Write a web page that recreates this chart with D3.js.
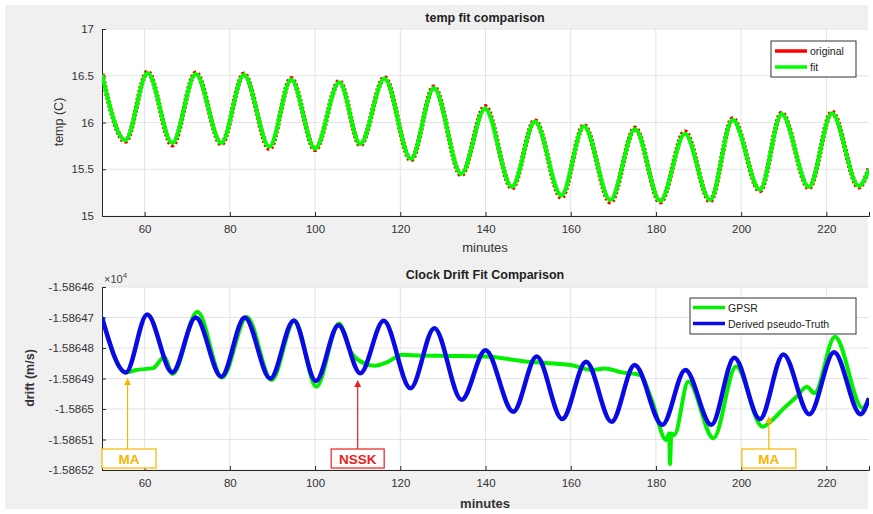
<!DOCTYPE html>
<html><head><meta charset="utf-8">
<script src="https://cdn.jsdelivr.net/npm/d3@7"></script>
<style>
body{margin:0;background:#fff;}
text{font-family:"Liberation Sans",Arial,sans-serif;}
</style></head>
<body><svg id="c" width="873" height="514"></svg>
<script>
// ---------- data ----------
const xTicks = [60, 80, 100, 120, 140, 160, 180, 200, 220];
const tempTicks = [15, 15.5, 16, 16.5, 17];
const tempTickLabels = ["15", "15.5", "16", "16.5", "17"];
// temperature extrema (minutes, degC)
const tempTime = [50, 55.5, 60.7, 66.5, 72, 78, 83.3, 89.3, 94.4, 100, 105.7, 110.6, 116.3, 122.5, 127.9, 134.3, 139.9, 146.2, 151.6, 157.8, 163.1, 169.3, 175.1, 181, 186.8, 192.7, 198, 204.4, 209.5, 215.9, 221.3, 227.6, 230];
const tempFit  = [16.51, 15.81, 16.53, 15.78, 16.52, 15.78, 16.51, 15.74, 16.46, 15.72, 16.43, 15.77, 16.47, 15.61, 16.37, 15.45, 16.15, 15.31, 16.01, 15.22, 15.96, 15.17, 15.93, 15.16, 15.88, 15.17, 16.03, 15.28, 16.09, 15.31, 16.10, 15.32, 15.50];
const tempOrig = [16.52, 15.80, 16.54, 15.76, 16.53, 15.77, 16.52, 15.72, 16.47, 15.71, 16.44, 15.76, 16.48, 15.60, 16.38, 15.44, 16.17, 15.30, 16.02, 15.20, 15.97, 15.15, 15.94, 15.15, 15.90, 15.16, 16.04, 15.27, 16.10, 15.30, 16.11, 15.31, 15.51];

const driftTicks = [-1.58652, -1.58651, -1.5865, -1.58649, -1.58648, -1.58647, -1.58646];
const driftTickLabels = ["-1.58652", "-1.58651", "-1.5865", "-1.58649", "-1.58648", "-1.58647", "-1.58646"];
// derived pseudo-truth extrema (minutes, drift x1e4 m/s)
const truthTime = [50, 55.6, 60.6, 66.5, 72, 78, 83.5, 89.5, 95, 100.2, 105.5, 110.6, 116.1, 122.4, 128, 134.4, 140, 146.5, 152, 158, 163.6, 169.6, 175, 181.5, 186.9, 193, 198.4, 204.4, 209.9, 216, 221.8, 228, 230];
const truth = [-1.586470, -1.586488, -1.586469, -1.586488, -1.586470, -1.5864894, -1.586470, -1.586490, -1.586471, -1.5864908, -1.5864725, -1.5864883, -1.5864711, -1.5864932, -1.5864735, -1.586497, -1.5864807, -1.5865009, -1.5864828, -1.5865033, -1.5864845, -1.5865042, -1.5864856, -1.5865052, -1.5864872, -1.5865052, -1.5864832, -1.5865033, -1.5864821, -1.5865017, -1.5864814, -1.5865017, -1.5864965];
// GPSR samples (minutes, drift x1e4 m/s)
const gpsrTime = [50, 55.6, 58, 62, 64.6, 66.6, 72.4, 78.2, 84, 89.8, 95.2, 100.3, 105.6, 108.5, 111.5, 114, 117, 120.5, 125, 132, 140, 150, 160, 165, 168, 172, 176.3, 179, 182.4, 183.1, 183.3, 183.6, 184.3, 187.6, 193.5, 198.8, 205, 207, 210, 213, 215.4, 217.2, 222, 228.5, 230];
const gpsr = [-1.586470, -1.586488, -1.5864872, -1.5864866, -1.586483, -1.5864885, -1.5864681, -1.5864897, -1.5864698, -1.5864905, -1.586471, -1.5864927, -1.586472, -1.5864815, -1.586485, -1.5864858, -1.5864846, -1.5864822, -1.5864825, -1.5864826, -1.5864828, -1.5864845, -1.5864856, -1.5864872, -1.5864867, -1.586488, -1.5864889, -1.586497, -1.5865102, -1.586508, -1.586518, -1.586508, -1.5865085, -1.586491, -1.5865096, -1.5864861, -1.5865058, -1.586504, -1.5864998, -1.586496, -1.5864927, -1.5864948, -1.5864763, -1.5864997, -1.5864965];

// annotations: label, x (minutes) of arrow, value of arrow tip
const annLabels = ["MA", "NSSK", "MA"];
const annX = [56, 110, 206.5];
const annTip = [-1.5864898, -1.5864905, -1.5865023];
const annColors = ["#f7b500", "#ee1c1c", "#f7b500"];

// ---------- drawing ----------
const svg = d3.select("#c");
svg.append("rect").attr("x", 5).attr("y", 5).attr("width", 863).attr("height", 504).attr("fill", "#f0f0f0");

const L = 102, R = 869;
const x = d3.scaleLinear().domain([50, 230]).range([L, R]);
const yT = d3.scaleLinear().domain([15, 17]).range([216, 29]);
const yD = d3.scaleLinear().domain([-1.58652, -1.58646]).range([470, 287]);

function panel(y, ticks, labels, top, bottom) {
  const g = svg.append("g");
  g.append("rect").attr("x", L).attr("y", top).attr("width", R - L).attr("height", bottom - top).attr("fill", "#fff");
  // grid
  g.selectAll(".vg").data(xTicks).enter().append("line")
    .attr("x1", d => x(d)).attr("x2", d => x(d)).attr("y1", top).attr("y2", bottom)
    .attr("stroke", "#e3e3e3").attr("stroke-width", 1);
  g.selectAll(".hg").data(ticks).enter().append("line")
    .attr("x1", L).attr("x2", R).attr("y1", d => y(d)).attr("y2", d => y(d))
    .attr("stroke", "#e3e3e3").attr("stroke-width", 1);
  // axes
  const ax = d3.axisBottom(x).tickValues(xTicks).tickSize(-4).tickPadding(9).tickFormat(d3.format("d"));
  const xg = g.append("g").attr("transform", `translate(0,${bottom})`).call(ax);
  const ay = d3.axisLeft(y).tickValues(ticks).tickSize(-4).tickPadding(8).tickFormat((d, i) => labels[i]);
  const yg = g.append("g").attr("transform", `translate(${L},0)`).call(ay);
  [xg, yg].forEach(a => {
    a.select(".domain").attr("stroke", "#262626").attr("stroke-width", 1);
    a.selectAll(".tick line").attr("stroke", "#262626");
    a.selectAll("text").attr("fill", "#333").style("font-size", "11.5px").style("font-family", "Liberation Sans, Arial, sans-serif");
  });
  return g;
}

// ---- top panel ----
panel(yT, tempTicks, tempTickLabels, 29, 216);
const lineT = (arr) => d3.line().x((d, i) => x(tempTime[i])).y(d => yT(d)).curve(d3.curveMonotoneX)(arr);
const clipT = svg.append("clipPath").attr("id", "ct").append("rect").attr("x", L).attr("y", 29).attr("width", R - L).attr("height", 187);
svg.append("path").attr("d", lineT(tempOrig)).attr("fill", "none").attr("stroke", "#ff0000").attr("stroke-width", 5).attr("stroke-dasharray", "2,2").attr("clip-path", "url(#ct)");
svg.append("path").attr("d", lineT(tempFit)).attr("fill", "none").attr("stroke", "#00ff00").attr("stroke-width", 4).attr("clip-path", "url(#ct)");

svg.append("text").attr("x", 485).attr("y", 22).attr("text-anchor", "middle").attr("font-weight", "bold").attr("font-size", "12.5px").attr("fill", "#222").text("temp fit comparison");
svg.append("text").attr("x", 485).attr("y", 252).attr("text-anchor", "middle").attr("font-size", "13px").attr("fill", "#333").text("minutes");
svg.append("text").attr("transform", "translate(63,122) rotate(-90)").attr("text-anchor", "middle").attr("font-size", "12.5px").attr("fill", "#333").text("temp (C)");

// legend top
const lg1 = svg.append("g");
lg1.append("rect").attr("x", 771).attr("y", 41).attr("width", 85).attr("height", 36).attr("fill", "#fff").attr("stroke", "#333").attr("stroke-width", 1);
[["original", "#ff0000"], ["fit", "#00ff00"]].forEach((e, i) => {
  const yy = 51 + i * 16;
  lg1.append("line").attr("x1", 775).attr("x2", 807).attr("y1", yy).attr("y2", yy).attr("stroke", e[1]).attr("stroke-width", 3.5);
  lg1.append("text").attr("x", 810).attr("y", yy + 3.5).attr("font-size", "10.5px").attr("fill", "#222").text(e[0]);
});

// ---- bottom panel ----
panel(yD, driftTicks, driftTickLabels, 287, 470);
const clipD = svg.append("clipPath").attr("id", "cd").append("rect").attr("x", L).attr("y", 287).attr("width", R - L).attr("height", 183);
const lineG = d3.line().x((d, i) => x(gpsrTime[i])).y(d => yD(d)).curve(d3.curveMonotoneX);
const lineB = d3.line().x((d, i) => x(truthTime[i])).y(d => yD(d)).curve(d3.curveMonotoneX);
svg.append("path").attr("d", lineG(gpsr)).attr("fill", "none").attr("stroke", "#00f000").attr("stroke-width", 4).attr("clip-path", "url(#cd)");
svg.append("path").attr("d", lineB(truth)).attr("fill", "none").attr("stroke", "#0a0ae6").attr("stroke-width", 4.5).attr("clip-path", "url(#cd)");

svg.append("text").attr("x", 485).attr("y", 279).attr("text-anchor", "middle").attr("font-weight", "bold").attr("font-size", "12.5px").attr("fill", "#222").text("Clock Drift Fit Comparison");
svg.append("text").attr("x", 485).attr("y", 508).attr("text-anchor", "middle").attr("font-weight", "bold").attr("font-size", "13px").attr("fill", "#333").text("minutes");
svg.append("text").attr("transform", "translate(34,378) rotate(-90)").attr("text-anchor", "middle").attr("font-weight", "bold").attr("font-size", "12.5px").attr("fill", "#333").text("drift (m/s)");
const ex = svg.append("text").attr("x", 104).attr("y", 283).attr("font-size", "11px").attr("fill", "#444");
ex.append("tspan").text("\u00d710");
ex.append("tspan").attr("dy", -5).attr("font-size", "8px").text("4");

// legend bottom
const lg2 = svg.append("g");
lg2.append("rect").attr("x", 690).attr("y", 298).attr("width", 166).attr("height", 36).attr("fill", "#fff").attr("stroke", "#333").attr("stroke-width", 1);
[["GPSR", "#00f000"], ["Derived pseudo-Truth", "#0a0ae6"]].forEach((e, i) => {
  const yy = 307.5 + i * 16;
  lg2.append("line").attr("x1", 693).attr("x2", 725).attr("y1", yy).attr("y2", yy).attr("stroke", e[1]).attr("stroke-width", 3.5);
  lg2.append("text").attr("x", 728).attr("y", yy + 4).attr("font-size", "10.5px").attr("fill", "#222").text(e[0]);
});

// annotations
annLabels.forEach((lab, i) => {
  const cx = x(annX[i]);
  const g = svg.append("g");
  const w = lab === "NSSK" ? 53 : 54;
  const bx = i === 0 ? L : cx - w / 2;
  g.append("rect").attr("x", bx).attr("y", 449).attr("width", w).attr("height", 19).attr("fill", "#fff").attr("stroke", annColors[i]).attr("stroke-width", 1.2);
  g.append("text").attr("x", bx + w / 2).attr("y", 464).attr("text-anchor", "middle").attr("font-weight", "bold").attr("font-size", "13.5px").attr("fill", annColors[i]).text(lab);
  const tip = yD(annTip[i]);
  g.append("line").attr("x1", cx).attr("x2", cx).attr("y1", 449).attr("y2", tip + 5).attr("stroke", annColors[i]).attr("stroke-width", 1.2);
  g.append("path").attr("d", `M${cx},${tip} L${cx - 3.5},${tip + 7} L${cx + 3.5},${tip + 7} Z`).attr("fill", annColors[i]);
});
</script></body></html>
